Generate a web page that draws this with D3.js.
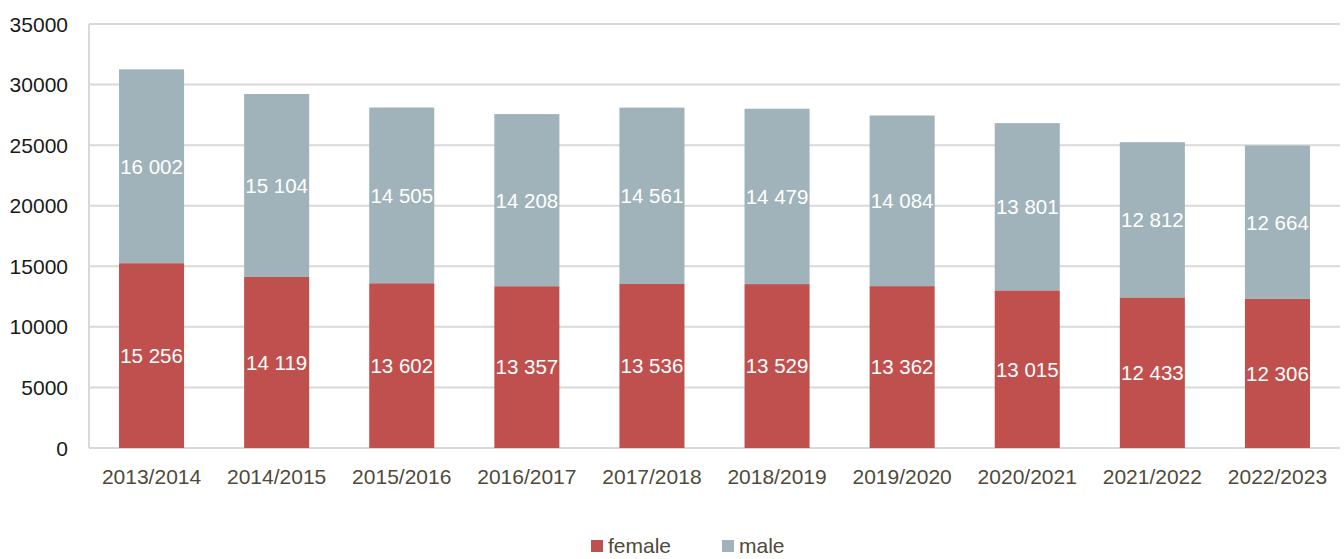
<!DOCTYPE html>
<html>
<head>
<meta charset="utf-8">
<script src="https://cdn.jsdelivr.net/npm/d3@7"></script>
<style>
  body { margin: 0; background: #fff; }
  text { font-family: "Liberation Sans", Arial, sans-serif; }
</style>
</head>
<body>
<div id="app"></div>
<script>
const d3 = window.d3;

const years = ["2013/2014", "2014/2015", "2015/2016", "2016/2017", "2017/2018",
  "2018/2019", "2019/2020", "2020/2021", "2021/2022", "2022/2023"];
const female = [15256, 14119, 13602, 13357, 13536, 13529, 13362, 13015, 12433, 12306];
const male = [16002, 15104, 14505, 14208, 14561, 14479, 14084, 13801, 12812, 12664];
const yTicks = [0, 5000, 10000, 15000, 20000, 25000, 30000, 35000];
const seriesNames = ["female", "male"];

const width = 1344, height = 559;
const margin = { top: 24, right: 4, bottom: 111, left: 89 };
const colors = { female: "#c0504d", male: "#a0b3ba" };

const x = d3.scaleBand()
  .domain(years)
  .range([margin.left, width - margin.right])
  .paddingInner(0.48)
  .paddingOuter(0.24);

const y = d3.scaleLinear()
  .domain([0, 35000])
  .range([height - margin.bottom, margin.top]);

const fmt = (v) => d3.format(",")(v).replace(/,/g, " ");

const svg = d3.select("#app").append("svg")
  .attr("width", width)
  .attr("height", height);

// gridlines
svg.append("g")
  .selectAll("line")
  .data(yTicks)
  .join("line")
  .attr("x1", margin.left)
  .attr("x2", width - margin.right)
  .attr("y1", (d) => y(d))
  .attr("y2", (d) => y(d))
  .attr("stroke", "#d9d9d9")
  .attr("stroke-width", 2);

// left axis line
svg.append("line")
  .attr("x1", margin.left)
  .attr("x2", margin.left)
  .attr("y1", y(35000))
  .attr("y2", y(0))
  .attr("stroke", "#d9d9d9")
  .attr("stroke-width", 2);

// y tick labels
svg.append("g")
  .selectAll("text")
  .data(yTicks)
  .join("text")
  .attr("x", margin.left - 21)
  .attr("y", (d) => y(d))
  .attr("dy", "0.36em")
  .attr("text-anchor", "end")
  .style("font-size", "21px")
  .attr("fill", "#1a1a1a")
  .text((d) => d);

const rows = years.map((yr, i) => ({ year: yr, female: female[i], male: male[i] }));
const stacked = d3.stack().keys(seriesNames)(rows);

const groups = svg.append("g")
  .selectAll("g")
  .data(stacked)
  .join("g")
  .attr("fill", (s) => colors[s.key]);

groups.selectAll("rect")
  .data((s) => s)
  .join("rect")
  .attr("x", (d) => x(d.data.year))
  .attr("width", x.bandwidth())
  .attr("y", (d) => y(d[1]))
  .attr("height", (d) => y(d[0]) - y(d[1]));

groups.selectAll("text")
  .data((s) => s)
  .join("text")
  .attr("x", (d) => x(d.data.year) + x.bandwidth() / 2)
  .attr("y", (d) => (y(d[0]) + y(d[1])) / 2)
  .attr("dy", "0.36em")
  .attr("text-anchor", "middle")
  .attr("fill", "#ffffff")
  .style("font-size", "20.5px")
  .text((d) => fmt(d[1] - d[0]));

// x labels
svg.append("g")
  .selectAll("text")
  .data(years)
  .join("text")
  .attr("x", (d) => x(d) + x.bandwidth() / 2)
  .attr("y", y(0) + 28)
  .attr("dy", "0.36em")
  .attr("text-anchor", "middle")
  .style("font-size", "21px")
  .attr("fill", "#4f4a3a")
  .text((d) => d);

// legend
const legendPos = [591, 722];
const legend = svg.append("g")
  .selectAll("g")
  .data(seriesNames)
  .join("g")
  .attr("transform", (d, i) => `translate(${legendPos[i]}, ${545})`);

legend.append("rect")
  .attr("x", 0)
  .attr("y", -5)
  .attr("width", 12)
  .attr("height", 12)
  .attr("fill", (d) => colors[d]);

legend.append("text")
  .attr("x", 17)
  .attr("y", 0)
  .attr("dy", "0.36em")
  .style("font-size", "21px")
  .attr("fill", "#4f4a3a")
  .text((d) => d);
</script>
</body>
</html>
